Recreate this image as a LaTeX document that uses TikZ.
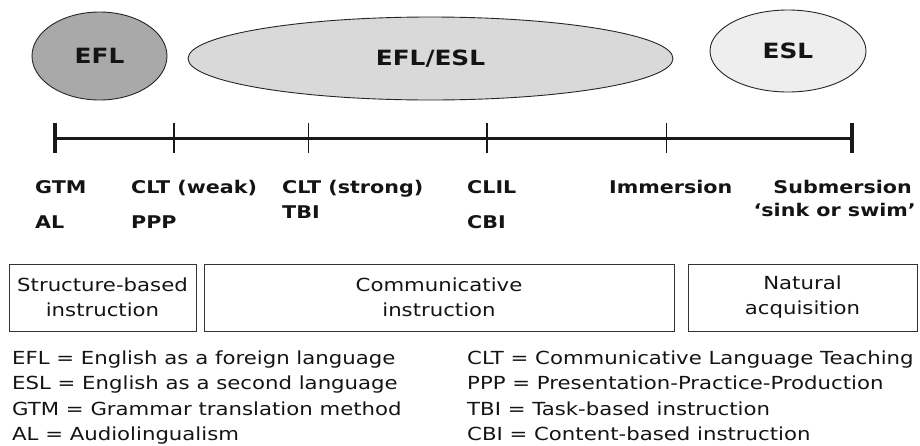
\documentclass[tikz,border=0pt]{standalone}
\usepackage{fontspec}
\setmainfont{DejaVu Sans}[FakeStretch=1.18]
\usetikzlibrary{shapes.geometric}
\definecolor{eflgray}{HTML}{A9A9A9}
\definecolor{midgray}{HTML}{D9D9D9}
\definecolor{eslgray}{HTML}{EEEEEE}
\definecolor{ink}{HTML}{141414}
\begin{document}
\begin{tikzpicture}[x=1pt,y=-1pt,
  ell/.style={ellipse, draw=black!85, line width=0.9pt, inner sep=0pt, text=ink,
    font=\fontsize{21}{25}\selectfont\bfseries},
  lab/.style={anchor=base west, inner sep=0pt, text=ink,
    font=\fontsize{17.5}{21}\selectfont\bfseries},
  labr/.style={lab, anchor=base east},
  box/.style={draw=black!80, line width=1pt, align=center, minimum height=67pt,
    inner sep=0pt, text=ink, font=\fontsize{18}{25}\selectfont},
  leg/.style={anchor=base west, inner sep=0pt, text=ink,
    font=\fontsize{18}{22}\selectfont},
  thickline/.style={line width=3pt, black!90},
  endtick/.style={line width=3.5pt, black!90},
  midtick/.style={line width=1.8pt, black!90},
  thintick/.style={line width=1pt, black!90}]
\useasboundingbox (0,0) rectangle (920,445);
% ellipses
\node[ell, fill=eflgray, minimum width=135pt, minimum height=88pt] (efl) at (99.5,56) {EFL};
\node[ell, fill=midgray, minimum width=485pt, minimum height=83pt] (eflesl) at (430.5,58.5) {EFL/ESL};
\node[ell, fill=eslgray, minimum width=156pt, minimum height=82pt] (esl) at (788,51) {ESL};
% timeline
\coordinate (t0) at (55,138);
\coordinate (t1) at (174,138);
\coordinate (t2) at (308,138);
\coordinate (t3) at (487,138);
\coordinate (t4) at (666,138);
\coordinate (t5) at (852,138);
\draw[thickline] (t0) -- (t5);
\draw[endtick] ([yshift=15pt]t0) -- ([yshift=-15pt]t0);
\draw[endtick] ([yshift=15pt]t5) -- ([yshift=-15pt]t5);
\draw[midtick] ([yshift=15pt]t1) -- ([yshift=-15pt]t1);
\draw[thintick] ([yshift=15pt]t2) -- ([yshift=-15pt]t2);
\draw[midtick] ([yshift=15pt]t3) -- ([yshift=-15pt]t3);
\draw[thintick] ([yshift=15pt]t4) -- ([yshift=-15pt]t4);
% labels
\node[lab] (gtm) at (35,193) {GTM};
\node[lab] (al) at (35,228) {AL};
\node[lab] (cltw) at (131,193) {CLT (weak)};
\node[lab] (ppp) at (131,228) {PPP};
\node[lab] (clts) at (282,193) {CLT (strong)};
\node[lab] (tbi) at (282,218) {TBI};
\node[lab] (clil) at (467,193) {CLIL};
\node[lab] (cbi) at (467,228) {CBI};
\node[lab] (imm) at (609,193) {Immersion};
\node[labr] (sub) at (912,193) {Submersion};
\node[labr] (sink) at (916,216) {‘sink or swim’};
% boxes
\node[box, minimum width=187pt] (b1) at (102.5,297.5) {Structure-based\\instruction};
\node[box, minimum width=470pt] (b2) at (439,297.5) {Communicative\\instruction};
\node[box, minimum width=229pt] (b3) at (802.5,297.5) {Natural\\acquisition};
% legend
\node[leg] (l1) at (12,364) {EFL = English as a foreign language};
\node[leg] (l2) at (12,389.5) {ESL = English as a second language};
\node[leg] (l3) at (12,415) {GTM = Grammar translation method};
\node[leg] (l4) at (12,440) {AL = Audiolingualism};
\node[leg] (r1) at (467,364) {CLT = Communicative Language Teaching};
\node[leg] (r2) at (467,389.5) {PPP = Presentation-Practice-Production};
\node[leg] (r3) at (467,415) {TBI = Task-based instruction};
\node[leg] (r4) at (467,440) {CBI = Content-based instruction};
\end{tikzpicture}
\end{document}
